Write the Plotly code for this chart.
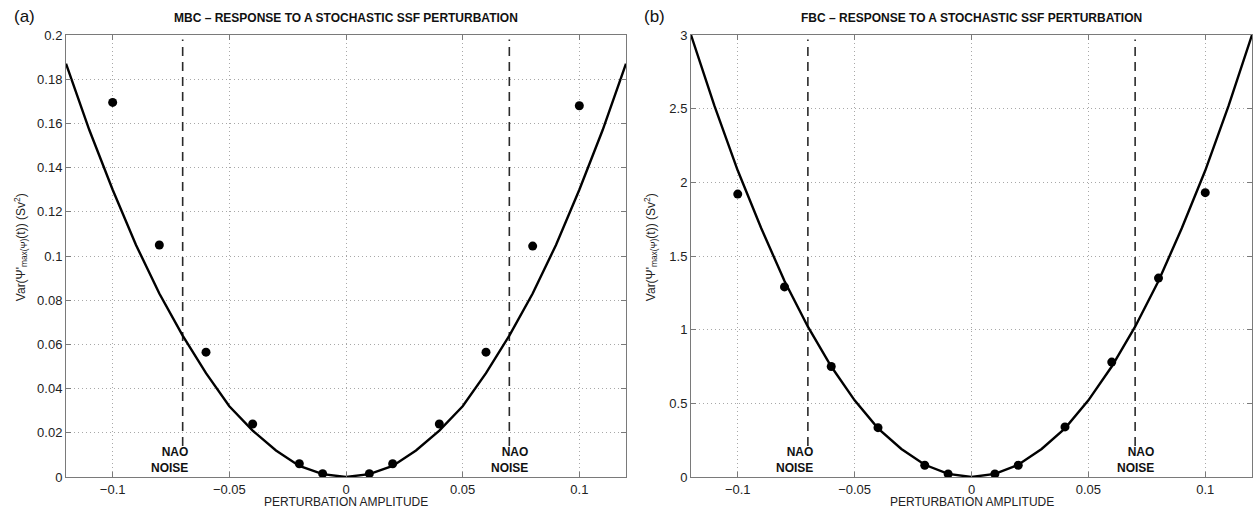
import plotly.graph_objects as go

# ---------------- data ----------------
pert_x = [-0.1, -0.08, -0.06, -0.04, -0.02, -0.01, 0.01, 0.02, 0.04, 0.06, 0.08, 0.1]
mbc_pts = [0.1695, 0.105, 0.0565, 0.024, 0.006, 0.0015, 0.0015, 0.006, 0.024, 0.0565, 0.1045, 0.168]
fbc_pts = [1.92, 1.29, 0.75, 0.335, 0.08, 0.02, 0.02, 0.08, 0.34, 0.78, 1.35, 1.93]

curve_x = [-0.12, -0.11, -0.10, -0.09, -0.08, -0.07, -0.06, -0.05, -0.04, -0.03, -0.02, -0.01, 0.0,
           0.01, 0.02, 0.03, 0.04, 0.05, 0.06, 0.07, 0.08, 0.09, 0.10, 0.11, 0.12]
mbc_curve = [0.187, 0.157, 0.130, 0.105, 0.083, 0.064, 0.047, 0.032, 0.021, 0.012, 0.005, 0.0013, 0.0,
             0.0013, 0.005, 0.012, 0.021, 0.032, 0.047, 0.064, 0.083, 0.105, 0.130, 0.157, 0.187]
fbc_curve = [3.0, 2.52, 2.08, 1.69, 1.33, 1.02, 0.75, 0.52, 0.33, 0.19, 0.083, 0.021, 0.0,
             0.021, 0.083, 0.19, 0.33, 0.52, 0.75, 1.02, 1.33, 1.69, 2.08, 2.52, 3.0]

nao_x = [-0.07, 0.07]
mbc_nao_y = [0.014, 0.198]
fbc_nao_y = [0.21, 2.97]

x_ticks = [-0.1, -0.05, 0, 0.05, 0.1]
x_ticklabels = ["\u22120.1", "\u22120.05", "0", "0.05", "0.1"]
mbc_yticks = [0, 0.02, 0.04, 0.06, 0.08, 0.1, 0.12, 0.14, 0.16, 0.18, 0.2]
mbc_yticklabels = ["0", "0.02", "0.04", "0.06", "0.08", "0.1", "0.12", "0.14", "0.16", "0.18", "0.2"]
fbc_yticks = [0, 0.5, 1, 1.5, 2, 2.5, 3]
fbc_yticklabels = ["0", "0.5", "1", "1.5", "2", "2.5", "3"]

titles = ["MBC \u2013 RESPONSE TO A STOCHASTIC SSF PERTURBATION",
          "FBC \u2013 RESPONSE TO A STOCHASTIC SSF PERTURBATION"]
panel_labels = ["(a)", "(b)"]
xlabel = "PERTURBATION AMPLITUDE"
ylabel = "Var(\u03a8'<sub>max(\u03a8)</sub>(t)) (Sv<sup>2</sup>)"
nao_text = "NAO<br>NOISE"

# ---------------- figure ----------------
W, H = 1255, 510
T, B = 35, 33
FONT = "Liberation Sans, Arial, Helvetica, sans-serif"
fig = go.Figure()

panels = [
    ("x", "y", mbc_curve, mbc_pts, mbc_nao_y),
    ("x2", "y2", fbc_curve, fbc_pts, fbc_nao_y),
]
for xa, ya, cv, pts, ny in panels:
    for nx in nao_x:
        fig.add_trace(go.Scatter(x=[nx, nx], y=ny, mode="lines", xaxis=xa, yaxis=ya,
                                 line=dict(color="#2a2a2a", width=1.6, dash="9px,6px"),
                                 showlegend=False, hoverinfo="skip"))
    fig.add_trace(go.Scatter(x=curve_x, y=cv, mode="lines", xaxis=xa, yaxis=ya,
                             line=dict(color="black", width=2.4), showlegend=False))
    fig.add_trace(go.Scatter(x=pert_x, y=pts, mode="markers", xaxis=xa, yaxis=ya,
                             marker=dict(color="black", size=9, symbol="circle"),
                             showlegend=False))

axis_common = dict(
    showline=True, linecolor="#7a7a7a", linewidth=1, mirror="ticks",
    ticks="inside", ticklen=5, tickcolor="#7a7a7a",
    showgrid=True, gridcolor="#a8a8a8", griddash="1px,3px", gridwidth=1,
    zeroline=False, automargin=False,
    tickfont=dict(family=FONT, size=13, color="#222"),
)
dom1 = [66 / W, 626 / W]
dom2 = [691 / W, 1252 / W]
fig.update_layout(
    width=W, height=H,
    margin=dict(l=0, r=0, t=T, b=B),
    paper_bgcolor="white", plot_bgcolor="white",
    font=dict(family=FONT, color="#222", size=12),
    xaxis=dict(domain=dom1, range=[-0.12, 0.12], tickvals=x_ticks, ticktext=x_ticklabels,
               anchor="y", **axis_common),
    yaxis=dict(range=[0, 0.2], tickvals=mbc_yticks, ticktext=mbc_yticklabels,
               anchor="x", **axis_common),
    xaxis2=dict(domain=dom2, range=[-0.12, 0.12], tickvals=x_ticks, ticktext=x_ticklabels,
                anchor="y2", **axis_common),
    yaxis2=dict(range=[0, 3], tickvals=fbc_yticks, ticktext=fbc_yticklabels,
                anchor="x2", **axis_common),
)

plot_h = H - T - B
ann = []
for i, dom in enumerate([dom1, dom2]):
    cx = (dom[0] + dom[1]) / 2
    ann.append(dict(text="<b>" + titles[i] + "</b>", x=cx, y=1 + (T - 18) / plot_h,
                    xref="paper", yref="paper", xanchor="center", yanchor="middle",
                    showarrow=False, font=dict(family=FONT, size=12, color="#111")))
    ann.append(dict(text=xlabel, x=cx, y=-(502 - 477) / plot_h,
                    xref="paper", yref="paper", xanchor="center", yanchor="middle",
                    showarrow=False, font=dict(family=FONT, size=12, color="#222")))
ann.append(dict(text=panel_labels[0], x=12 / W, y=1 + (T - 17) / plot_h, xref="paper", yref="paper",
                xanchor="left", yanchor="middle", showarrow=False,
                font=dict(family=FONT, size=17, color="#111")))
ann.append(dict(text=panel_labels[1], x=642 / W, y=1 + (T - 17) / plot_h, xref="paper", yref="paper",
                xanchor="left", yanchor="middle", showarrow=False,
                font=dict(family=FONT, size=17, color="#111")))
ann.append(dict(text=ylabel, x=21 / W, y=0.52, xref="paper", yref="paper", textangle=-90,
                xanchor="center", yanchor="middle", showarrow=False,
                font=dict(family=FONT, size=12, color="#222")))
ann.append(dict(text=ylabel, x=651 / W, y=0.52, xref="paper", yref="paper", textangle=-90,
                xanchor="center", yanchor="middle", showarrow=False,
                font=dict(family=FONT, size=12, color="#222")))

nao_right = [-0.067, 0.079]
for xr, yr in [("x", "y"), ("x2", "y2")]:
    for nr in nao_right:
        ann.append(dict(text="<b>" + nao_text + "</b>", x=nr, y=0, xref=xr, yref=yr,
                        xanchor="right", yanchor="bottom", align="right", yshift=0,
                        showarrow=False, font=dict(family=FONT, size=12, color="#111")))
fig.update_layout(annotations=ann)

fig.write_html("out.html", config={"displayModeBar": False},
               post_script="document.body.style.margin='0';")
